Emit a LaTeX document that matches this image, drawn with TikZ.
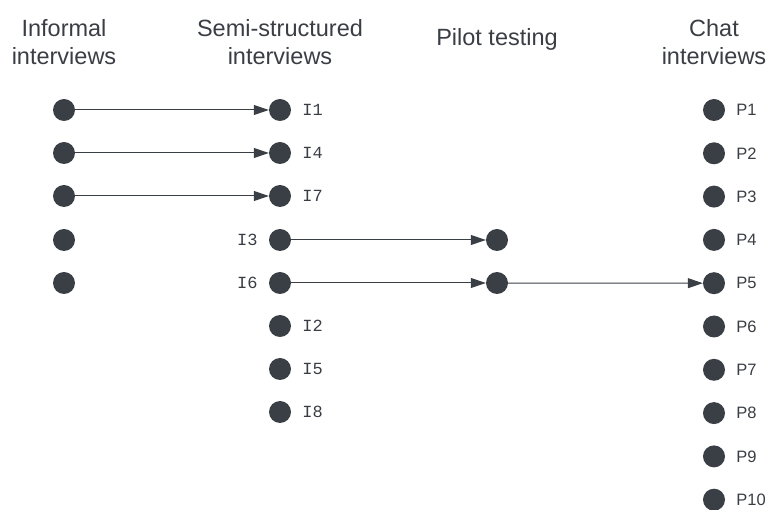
\documentclass[tikz,border=0pt]{standalone}
\usepackage{fontspec}
\setmainfont{Liberation Sans}
\setmonofont{Liberation Mono}
\usetikzlibrary{arrows.meta}

\definecolor{dotgray}{HTML}{3A3F45}
\definecolor{txtgray}{HTML}{3A3E44}

\begin{document}
\begin{tikzpicture}[x=1pt, y=-1pt,
  head/.style={align=center, font=\fontsize{23.5}{28}\selectfont, text=txtgray},
  dot/.style={circle, fill=dotgray, minimum size=22pt, inner sep=0pt},
  arr/.style={-{Triangle[length=15pt,width=10pt]}, draw=dotgray, line width=1pt},
  ilbl/.style={font=\ttfamily\fontsize{17}{17}\selectfont, text=txtgray, inner sep=0pt},
  plbl/.style={font=\fontsize{16.5}{17}\selectfont, text=txtgray, inner sep=0pt},
  label distance=11pt
]
\useasboundingbox (0,0) rectangle (772,510);

% Column headings
\node[head] (hinf)   at (64,42)  {Informal\\interviews};
\node[head] (hsemi)  at (280,42) {Semi-structured\\interviews};
\node[head] (hpilot) at (497,39) {Pilot testing};
\node[head] (hchat)  at (714,42) {Chat\\interviews};

% Informal interviews
\node[dot] (f1) at (64,110) {};
\node[dot] (f2) at (64,153) {};
\node[dot] (f3) at (64,196) {};
\node[dot] (f4) at (64,240) {};
\node[dot] (f5) at (64,283) {};

% Semi-structured interviews
\node[dot, label={[ilbl]right:I1}] (i1) at (280,110) {};
\node[dot, label={[ilbl]right:I4}] (i4) at (280,153) {};
\node[dot, label={[ilbl]right:I7}] (i7) at (280,196) {};
\node[dot, label={[ilbl]left:I3}]  (i3) at (280,240) {};
\node[dot, label={[ilbl]left:I6}]  (i6) at (280,283) {};
\node[dot, label={[ilbl]right:I2}] (i2) at (280,326) {};
\node[dot, label={[ilbl]right:I5}] (i5) at (280,369) {};
\node[dot, label={[ilbl]right:I8}] (i8) at (280,412) {};

% Pilot testing
\node[dot] (t1) at (497,240) {};
\node[dot] (t2) at (497,283) {};

% Chat interviews
\foreach \k in {1,...,10}
  \node[dot, label={[plbl]right:P\k}] (p\k) at (714,{110+43.3*(\k-1)}) {};

% Flow between the stages
\draw[arr] (f1) -- (i1);
\draw[arr] (f2) -- (i4);
\draw[arr] (f3) -- (i7);
\draw[arr] (i3) -- (t1);
\draw[arr] (i6) -- (t2);
\draw[arr] (t2) -- (p5);

\end{tikzpicture}
\end{document}
